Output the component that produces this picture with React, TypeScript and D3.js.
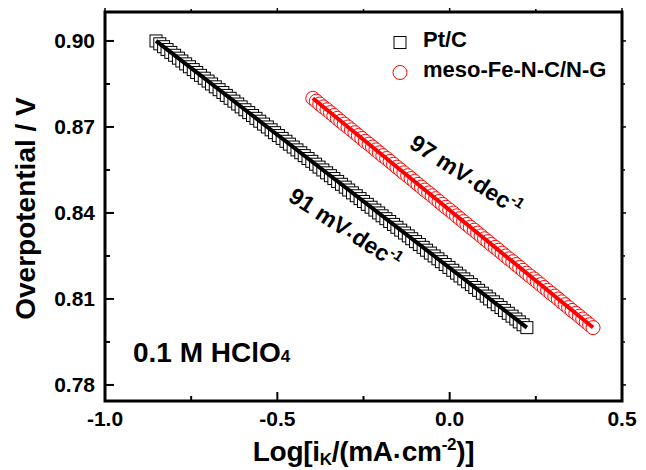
import React from "react";
import * as d3 from "d3";

// ---- data ----
const ptcPotential = [
  0.900, 0.899, 0.898, 0.897, 0.896, 0.895, 0.894, 0.893, 0.892, 0.891,
  0.890, 0.889, 0.888, 0.887, 0.886, 0.885, 0.884, 0.883, 0.882, 0.881,
  0.880, 0.879, 0.878, 0.877, 0.876, 0.875, 0.874, 0.873, 0.872, 0.871,
  0.870, 0.869, 0.868, 0.867, 0.866, 0.865, 0.864, 0.863, 0.862, 0.861,
  0.860, 0.859, 0.858, 0.857, 0.856, 0.855, 0.854, 0.853, 0.852, 0.851,
  0.850, 0.849, 0.848, 0.847, 0.846, 0.845, 0.844, 0.843, 0.842, 0.841,
  0.840, 0.839, 0.838, 0.837, 0.836, 0.835, 0.834, 0.833, 0.832, 0.831,
  0.830, 0.829, 0.828, 0.827, 0.826, 0.825, 0.824, 0.823, 0.822, 0.821,
  0.820, 0.819, 0.818, 0.817, 0.816, 0.815, 0.814, 0.813, 0.812, 0.811,
  0.810, 0.809, 0.808, 0.807, 0.806, 0.805, 0.804, 0.803, 0.802, 0.801,
  0.800,
];
const ptcLogIk = [
  -0.852, -0.841, -0.830, -0.820, -0.809, -0.798, -0.787, -0.777, -0.766, -0.755,
  -0.744, -0.734, -0.723, -0.712, -0.701, -0.691, -0.680, -0.669, -0.658, -0.648,
  -0.637, -0.626, -0.615, -0.605, -0.594, -0.583, -0.572, -0.562, -0.551, -0.540,
  -0.529, -0.518, -0.508, -0.497, -0.486, -0.475, -0.465, -0.454, -0.443, -0.432,
  -0.422, -0.411, -0.400, -0.389, -0.379, -0.368, -0.357, -0.346, -0.336, -0.325,
  -0.314, -0.303, -0.293, -0.282, -0.271, -0.260, -0.250, -0.239, -0.228, -0.217,
  -0.206, -0.196, -0.185, -0.174, -0.163, -0.153, -0.142, -0.131, -0.120, -0.110,
  -0.099, -0.088, -0.077, -0.067, -0.056, -0.045, -0.034, -0.024, -0.013, -0.002,
  0.009, 0.020, 0.030, 0.041, 0.052, 0.063, 0.073, 0.084, 0.095, 0.106,
  0.116, 0.127, 0.138, 0.149, 0.159, 0.170, 0.181, 0.192, 0.202, 0.213,
  0.224,
];
const fePotential = [
  0.880, 0.879, 0.878, 0.877, 0.876, 0.875, 0.874, 0.873, 0.872, 0.871,
  0.870, 0.869, 0.868, 0.867, 0.866, 0.865, 0.864, 0.863, 0.862, 0.861,
  0.860, 0.859, 0.858, 0.857, 0.856, 0.855, 0.854, 0.853, 0.852, 0.851,
  0.850, 0.849, 0.848, 0.847, 0.846, 0.845, 0.844, 0.843, 0.842, 0.841,
  0.840, 0.839, 0.838, 0.837, 0.836, 0.835, 0.834, 0.833, 0.832, 0.831,
  0.830, 0.829, 0.828, 0.827, 0.826, 0.825, 0.824, 0.823, 0.822, 0.821,
  0.820, 0.819, 0.818, 0.817, 0.816, 0.815, 0.814, 0.813, 0.812, 0.811,
  0.810, 0.809, 0.808, 0.807, 0.806, 0.805, 0.804, 0.803, 0.802, 0.801,
  0.800,
];
const feLogIk = [
  -0.397, -0.387, -0.377, -0.367, -0.356, -0.346, -0.336, -0.326, -0.316, -0.306,
  -0.295, -0.285, -0.275, -0.265, -0.255, -0.245, -0.234, -0.224, -0.214, -0.204,
  -0.194, -0.183, -0.173, -0.163, -0.153, -0.143, -0.133, -0.122, -0.112, -0.102,
  -0.092, -0.082, -0.072, -0.061, -0.051, -0.041, -0.031, -0.021, -0.011, 0.000,
  0.010, 0.020, 0.030, 0.040, 0.050, 0.060, 0.071, 0.081, 0.091, 0.101,
  0.111, 0.121, 0.132, 0.142, 0.152, 0.162, 0.172, 0.183, 0.193, 0.203,
  0.213, 0.223, 0.233, 0.244, 0.254, 0.264, 0.274, 0.284, 0.294, 0.305,
  0.315, 0.325, 0.335, 0.345, 0.355, 0.366, 0.376, 0.386, 0.396, 0.406,
  0.416,
];

const xTicks = [-1.0, -0.5, 0.0, 0.5];
const xTickLabels = ["-1.0", "-0.5", "0.0", "0.5"];
const xMinorTicks = [-0.75, -0.25, 0.25];
const yTicks = [0.78, 0.81, 0.84, 0.87, 0.9];
const yTickLabels = ["0.78", "0.81", "0.84", "0.87", "0.90"];
const yMinorTicks = [0.795, 0.825, 0.855, 0.885];
const seriesNames = ["Pt/C", "meso-Fe-N-C/N-G"];
const tafelSlopes = ["91", "97"];
const electrolyte = "0.1 M HClO";

const FONT = "Arial, 'Liberation Sans', Helvetica, sans-serif";

function linearFit(xs: number[], ys: number[]) {
  const mx = d3.mean(xs) as number;
  const my = d3.mean(ys) as number;
  let sxy = 0, sxx = 0;
  for (let i = 0; i < xs.length; i++) {
    sxy += (xs[i] - mx) * (ys[i] - my);
    sxx += (xs[i] - mx) * (xs[i] - mx);
  }
  const slope = sxy / sxx;
  return { slope, intercept: my - slope * mx };
}

export default function App() {
  const W = 646, H = 470;
  const left = 105, right = 622, top = 12, bottom = 401;
  const x = d3.scaleLinear().domain([-1.0, 0.5]).range([left, right]);
  const y = d3.scaleLinear().domain([0.7744, 0.9101]).range([bottom, top]);

  const ptFit = linearFit(ptcLogIk, ptcPotential);
  const feFit = linearFit(feLogIk, fePotential);
  const line = d3.line<number>().x((d) => d[0]).y((d) => d[1]);
  const fitPath = (xs: number[], f: { slope: number; intercept: number }) => {
    const [a, b] = d3.extent(xs) as [number, number];
    return line([
      [x(a), y(f.slope * a + f.intercept)],
      [x(b), y(f.slope * b + f.intercept)],
    ] as any);
  };

  const sq = 12;
  const cr = 7;

  return (
    <svg width={W} height={H} style={{ position: "absolute", left: 0, top: 0, background: "#fff" }} fontFamily={FONT}>
      <rect x={0} y={0} width={W} height={H} fill="#fff" />
      {/* Pt/C markers */}
      <g>
        {ptcLogIk.map((v, i) => (
          <rect key={i} x={x(v) - sq / 2} y={y(ptcPotential[i]) - sq / 2} width={sq} height={sq}
            fill="#fff" stroke="#000" strokeWidth={1} />
        ))}
      </g>
      <path d={fitPath(ptcLogIk, ptFit) as string} stroke="#000" strokeWidth={4} fill="none" />
      {/* Fe-N-C markers */}
      <g>
        {feLogIk.map((v, i) => (
          <circle key={i} cx={x(v)} cy={y(fePotential[i])} r={cr} fill="#fff" stroke="#ff0000" strokeWidth={1} />
        ))}
      </g>
      <path d={fitPath(feLogIk, feFit) as string} stroke="#ff0000" strokeWidth={4} fill="none" />

      {/* frame */}
      <rect x={left} y={top} width={right - left} height={bottom - top} fill="none" stroke="#000" strokeWidth={3} />

      {/* x ticks */}
      {xTicks.map((t, i) => (
        <g key={"xt" + i}>
          <line x1={x(t)} x2={x(t)} y1={bottom} y2={bottom - 9} stroke="#000" strokeWidth={2} />
          <line x1={x(t)} x2={x(t)} y1={top} y2={top - 4} stroke="#000" strokeWidth={1.5} />
          <text x={x(t)} y={426} textAnchor="middle" fontSize={21} fontWeight="bold">{xTickLabels[i]}</text>
        </g>
      ))}
      {xMinorTicks.map((t, i) => (
        <g key={"xm" + i}>
          <line x1={x(t)} x2={x(t)} y1={bottom} y2={bottom - 5} stroke="#000" strokeWidth={2} />
          <line x1={x(t)} x2={x(t)} y1={top} y2={top - 3} stroke="#000" strokeWidth={1.5} />
        </g>
      ))}
      {/* y ticks */}
      {yTicks.map((t, i) => (
        <g key={"yt" + i}>
          <line x1={left} x2={left + 9} y1={y(t)} y2={y(t)} stroke="#000" strokeWidth={2} />
          <line x1={right} x2={right + 4} y1={y(t)} y2={y(t)} stroke="#000" strokeWidth={1.5} />
          <text x={95} y={y(t) + 7.5} textAnchor="end" fontSize={21} fontWeight="bold">{yTickLabels[i]}</text>
        </g>
      ))}
      {yMinorTicks.map((t, i) => (
        <g key={"ym" + i}>
          <line x1={left} x2={left + 5} y1={y(t)} y2={y(t)} stroke="#000" strokeWidth={2} />
          <line x1={right} x2={right + 3} y1={y(t)} y2={y(t)} stroke="#000" strokeWidth={1.5} />
        </g>
      ))}

      {/* axis titles */}
      <text transform={`translate(35,${(top + bottom) / 2 + 2}) rotate(-90)`} textAnchor="middle" fontSize={28} fontWeight="bold">
        Overpotential / V
      </text>
      <text x={(left + right) / 2} y={461} textAnchor="middle" fontSize={28} fontWeight="bold" letterSpacing={-0.3}>
        Log[i<tspan fontSize={17} dy={4}>K</tspan><tspan dy={-4}>/(mA</tspan><tspan dy={4}>·</tspan><tspan dy={-4}>cm</tspan>
        <tspan fontSize={17} dy={-11}>-2</tspan><tspan dy={11}>)]</tspan>
      </text>

      {/* legend */}
      <rect x={400 - sq / 2} y={42.5 - sq / 2} width={sq} height={sq} fill="#fff" stroke="#000" strokeWidth={1} />
      <text x={423} y={47} fontSize={22} fontWeight="bold">{seriesNames[0]}</text>
      <circle cx={400} cy={72.5} r={cr} fill="#fff" stroke="#ff0000" strokeWidth={1} />
      <text x={423} y={77} fontSize={22} fontWeight="bold">{seriesNames[1]}</text>

      {/* electrolyte */}
      <text x={133} y={362} fontSize={28} fontWeight="bold">
        {electrolyte}<tspan fontSize={17}>4</tspan>
      </text>

      {/* Tafel slope labels */}
      <text transform="translate(287,200) rotate(33)" fontSize={23} fontWeight="bold">
        {tafelSlopes[0]} mV<tspan dy={3}>·</tspan><tspan dy={-3}>dec</tspan><tspan fontSize={15} dy={-9}>-1</tspan>
      </text>
      <text transform="translate(408,147) rotate(33)" fontSize={23} fontWeight="bold">
        {tafelSlopes[1]} mV<tspan dy={3}>·</tspan><tspan dy={-3}>dec</tspan><tspan fontSize={15} dy={-9}>-1</tspan>
      </text>
    </svg>
  );
}
